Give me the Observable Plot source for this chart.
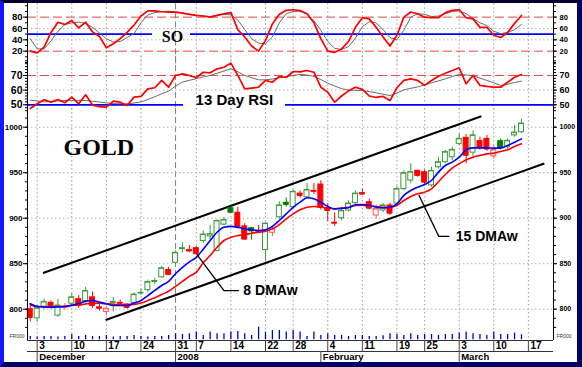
<!DOCTYPE html>
<html><head><meta charset="utf-8">
<script src="https://cdn.jsdelivr.net/npm/d3@7"></script>
<script src="https://cdn.jsdelivr.net/npm/@observablehq/plot@0.6"></script>
<style>
html,body{margin:0;padding:0;background:#fff;}
#chart{position:relative;width:582px;height:367px;overflow:hidden;background:#fff;}
#frame{position:absolute;left:0;top:0;width:582px;height:367px;box-sizing:border-box;
  border-left:4px solid #1414ff;border-top:3px solid #00002a;border-right:5px solid #000068;border-bottom:5px solid #000068;pointer-events:none;}
</style></head><body><div id="chart"></div>
<script>
// ---------- DATA (trading days, Nov 30 2007 .. Mar 14 2008) ----------
const dates = [
"2007-11-30",
"2007-12-03","2007-12-04","2007-12-05","2007-12-06","2007-12-07",
"2007-12-10","2007-12-11","2007-12-12","2007-12-13","2007-12-14",
"2007-12-17","2007-12-18","2007-12-19","2007-12-20","2007-12-21",
"2007-12-24","2007-12-26","2007-12-27","2007-12-28","2007-12-31",
"2008-01-02","2008-01-03","2008-01-04",
"2008-01-07","2008-01-08","2008-01-09","2008-01-10","2008-01-11",
"2008-01-14","2008-01-15","2008-01-16","2008-01-17","2008-01-18",
"2008-01-22","2008-01-23","2008-01-24","2008-01-25",
"2008-01-28","2008-01-29","2008-01-30","2008-01-31","2008-02-01",
"2008-02-04","2008-02-05","2008-02-06","2008-02-07","2008-02-08",
"2008-02-11","2008-02-12","2008-02-13","2008-02-14","2008-02-15",
"2008-02-19","2008-02-20","2008-02-21","2008-02-22",
"2008-02-25","2008-02-26","2008-02-27","2008-02-28","2008-02-29",
"2008-03-03","2008-03-04","2008-03-05","2008-03-06","2008-03-07",
"2008-03-10","2008-03-11","2008-03-12","2008-03-13","2008-03-14"];

const open = [800,
790,802,807,793,801.5, 806,811,809,813,802, 797,807,807,805,807, 817.5,821,830,835,843,
851,866,865, 867,875,880,864,893, 911,906,891,889,886, 865,884,901,917, 912,927,923,930,937,
911,895,900,908.5,916.5, 927.5,917.6,903,908.5,914, 916,932,941.4,952, 950.5,936,956,961.6,967,
981.7,988.3,972,984.7,987.2, 968,984.7,978,991,994.5];
const high = [804,
804,811,809,811,806, 817,815,824,819,808, 803,813,810,806,818, 822,832,834,847,846,
864,873,870, 869,886,892,898,901, 913,912,894,890,892, 895,890,918,922, 931,930,938,938,941,
916,906,912,919,930, 932,921,914,916,916.5, 935,952,960,953, 953,956,967,974.4,978,
992.7,992,996,989,991, 980,987,987,1002,1009];
const low = [786,
786,800,800,791,799, 805,801,806,801,798, 793,797,803,800,805, 815,818,827,834,837,
849,862,862, 860,872,875,863,892, 905,888,876,876,884, 853,880,899,912, 910,922,922,926,909,
896,891,897,907,915, 925,909,899,906,903, 914,930,938,945, 936,934,954,960,963,
980,960,967,975,973.6, 965,975,974,989,993];
const close = [791,
801,808,802,804,803, 813,804,820,804,801, 800.4,808,806.5,802,816, 818,829.7,831,845,838,
862,867,864, 861,882,882.5,897,898, 906.5,891,877,886,885.5, 894,888,914,915, 929,925,931,929.5,912,
908.5,894.5,908,916,927, 926.5,911,910,914,905.5, 932,949.5,950.6,947, 939.6,952,961.5,972.6,975,
987.2,969,991,977.3,976, 975,977.3,985,994,1004];
const volume = [3.3,
2.7,3.3,3.3,2.7,3.3, 5.3,3.3,4.3,3.3,3.3, 4.3,2.7,3.3,3.3,4.3, 3.3,2.7,3.3,3.3,4.3,
6,5.3,6, 7.7,4.3,7.7,6,6, 7.7,8.3,6,4.3,12.7, 7.7,9.3,9.3,7.7, 9.3,7.7,3.3,7.7,4.3,
6,4.3,4.3,3.3,4.3, 4.3,3.3,3.3,4,6, 5.3,4.3,6,4.3, 5.3,5.3,4.3,5.3,5.3,
6.7,7.7,6,5.3,4.3, 7.7,5.3,5.3,6.7,5];
// 8-day and 15-day weighted moving averages
const ma8 = [806,
803,802.5,802.3,802.5,803, 804.5,806,808.9,809.6,807.8, 806,804,804,804,806.7, 809.6,815,820.6,826,830.5,
839,846,852, 857,866,875.5,884.6,890, 891,890,888.3,887.2,886.5, 887.2,891,897.5,904.8, 912,917.6,922.4,921.3,917.6,
913,910.3,910.8,911.5,914.7, 915.1,914,912.1,911.4,912.1, 915.8,925,930.4,934.1, 937,941.4,950.6,957.9,961.6,
967.1,975.1,977.3,977.3,977.3, 977,977.3,979.9,983.5,987.2];
const ma15 = [805,
803,803,803,803,803, 804,804.8,805.8,806.7,806.5, 806,805.5,805.2,805,805.2, 806.7,809.6,812.5,816.2,819.8,
825,830.5,836, 840.7,851,859,868,875.5, 879,881,882,883.5,884.6, 885.7,888.3,893,899.3, 904.8,909.2,912.1,912.9,912.1,
911.4,910.3,911,912,914, 914.3,913.6,912.8,912.1,912.1, 914,919.5,923.9,926.8, 928.6,932.3,940,948,955,
960,964.1,967.1,968.9,970.7, 971.5,973.3,975.1,978.8,981.7];
// Stochastic oscillator %K (red) and %D (grey)
const soK = [20,
17,27,53,71,67, 74,61,71,54,46, 26,33,42,53,66, 82,91,91,89.5,89,
89,87,85, 83,82,80,83,86, 88,58,45,29,20, 39,68,85,92, 93,91.5,86,70,42,
20,18,24,37,62, 79,77,62,45,29, 48,80,89,86, 80,79,79,88,92,
93,79,77,62,62, 48,44,53,69,83];
const soD = [42,
24,24,38,55,67, 70,71,69,62,52, 42,36,37,44,51, 70,84,88,90,90.5,
89,87.5,85, 83,82,81,83,85, 84,75,58,42,34, 33,45,70,86, 90,90.5,86,74,57,
37,25,23,28,43, 63,72,70,58,44, 40,57,80,86, 85,81,82,86,90,
91,86,78,70,65, 55,51,53,58,67];
// 13 day RSI (red) and its signal (grey)
const rsi = [47.5,
50.7,53.4,51.8,53.6,51.4, 55.2,50.7,56.8,49.8,48.8, 48.4,52.5,51.8,49.5,55.2, 55.7,60.9,61.6,66.6,62,
70,71.1,70, 68.5,72.2,71.8,74.5,75.6, 78.4,70,60.9,61.4,62, 66.6,65.4,69.3,68.6, 72.7,72.4,73.4,72.2,62,
58.6,51.8,56,59.5,62, 60.5,56,55,55.7,52.9, 61.6,66.6,67.7,66.6, 63.2,66.6,69.5,71.5,73.4,
75.2,64.3,70,63.2,62.5, 62,62,65.4,68.8,70.7];
const rsiSig = [53.2,
52.6,52,52.2,52.6,52.9, 53,53,52.9,52.4,51.9, 51.3,50.8,50.7,50.7,51.2, 52,53.6,55.5,57.5,59.3,
62.8,65.5,66.7, 67.8,69,70,71.5,73, 74.5,72.5,70,68.5,67, 67,67.6,68.4,69.2, 70,70.7,70.3,69.3,67.2,
64.8,62.8,61,60,59.9, 59.7,59,58.2,57.2,56.3, 58,60.2,61.2,62.2, 63.6,65,66.3,67.7,69.3,
70.7,70.3,69.8,68.2,66.6, 65,63.2,64,65.2,66.1];

// axis labels
const tickDates = ["2007-12-03","2007-12-10","2007-12-17","2007-12-24","2008-01-02","2008-01-07","2008-01-14","2008-01-22",
  "2008-01-28","2008-02-04","2008-02-11","2008-02-19","2008-02-25","2008-03-03","2008-03-10","2008-03-17"];
const tickLabels = ["3","10","17","24","31","7","14","22","28","4","11","19","25","3","10","17"];
const monthDates = ["2007-12-03","2008-01-02","2008-02-01","2008-03-03"];
const monthLabels = ["December","2008","February","March"];
const yearBreak = "2008-01-02";
const soTicks = [20,40,60,80];
const rsiTicks = [50,60,70];
const priceTicks = [800,850,900,950,1000];
const volumeTag = ["FR000"];

// trend channel (trading-day index, price) and annotations
const channelUpper = [{i:0.95,p:840},{i:64.1,p:1011.8}];
const channelLower = [{i:10.0,p:788.4},{i:73.2,p:959.8}];
const lead8 = [{i:23.1,p:860},{i:27.0,p:820.5},{i:29.1,p:820.5}];
const lead15 = [{i:55.2,p:925},{i:58.05,p:880},{i:59.5,p:880}];
const priceNotes = [{i:29.8,p:820.5,t:"8 DMAw"},{i:60.5,p:880,t:"15 DMAw"}];
const goldNote = [{i:3.8,p:978,t:"GOLD"}];
const soNote = [{i:19.56,v:44.6,t:"SO"}];
const rsiNote = [{i:22.9,v:52.9,t:"13 Day RSI"}];

// ---------- BUILD ----------
const X0 = -1.4, X1 = 74.63, W = 582, ML = 27, MR = 29;
const last = dates.length - 2;
function idx(d) {
  const k = dates.indexOf(d);
  if (k >= 0) return k - 1;
  const t0 = new Date(dates[dates.length - 1]), t1 = new Date(d);
  return last + d3.utcDays(d3.utcDay.offset(t0, 1), d3.utcDay.offset(t1, 1)).filter(t => t.getUTCDay() % 6 !== 0).length;
}
const ticks = tickDates.map((d, k) => ({i: idx(d), label: tickLabels[k]}));
const months = monthDates.map((d, k) => ({i: idx(d), label: monthLabels[k]}));
const yearIdx = idx(yearBreak);
const gridIdx = ticks.map(t => t.i).filter(i => i !== yearIdx);

const rows = dates.map((d, k) => {
  const o = open[k], c = close[k];
  const prev = k > 0 ? close[k - 1] : o;
  const up = c >= prev, hollow = c >= o;
  const col = up ? (hollow ? "#3a9a3a" : "#077a07") : (hollow ? "#ff5555" : "#ff0000");
  return {i: k - 1, o, h: high[k], l: low[k], c, col, fill: hollow ? "white" : col,
    vol: volume[k], ma8: ma8[k], ma15: ma15[k], soK: soK[k], soD: soD[k], rsi: rsi[k], rsiSig: rsiSig[k]};
});

const chart = document.getElementById("chart");
const SANS = "'Liberation Sans', Arial, sans-serif";
const SERIF = "'Liberation Serif', 'Times New Roman', serif";
const fmt = d3.format("d");
function addPlot(top, opts) {
  const svg = Plot.plot({width: W, marginLeft: ML, marginRight: MR, ...opts, x: {domain: [X0, X1], axis: null}});
  svg.style.position = "absolute"; svg.style.left = "0px"; svg.style.top = top + "px";
  svg.style.background = "transparent"; svg.style.overflow = "visible"; svg.style.fontFamily = SANS;
  chart.appendChild(svg);
}
const grid = (ext) => [
  Plot.ruleX(gridIdx, {stroke: "#a0a0a0", strokeDasharray: "1.5,2.5", ...ext}),
  Plot.ruleX([yearIdx], {stroke: "#808080", strokeDasharray: "6,3", ...ext})
];
const edges = (ext) => Plot.ruleX([X0, X1], {stroke: "black", ...ext});
const yAxes = (major, minor, lf, rf) => [
  Plot.axisY(minor, {anchor: "left", tickSize: 2, tickFormat: () => "", label: null}),
  Plot.axisY(minor, {anchor: "right", tickSize: 2, tickFormat: () => "", label: null}),
  Plot.axisY(major, {anchor: "left", tickSize: 4, tickPadding: 1, tickFormat: fmt, fontSize: lf, fontWeight: "bold", label: null}),
  Plot.axisY(major, {anchor: "right", tickSize: 3, tickPadding: 3, tickFormat: fmt, fontSize: rf, fontWeight: "bold", label: null})
];

// Stochastic panel
addPlot(0, {
  height: 64, marginTop: 5.3, marginBottom: 2, y: {domain: [0, 100]},
  marks: [
    ...grid({insetTop: -2, insetBottom: -2}),
    Plot.ruleY([40, 60], {stroke: "#b8b8b8", strokeDasharray: "1.5,2.5"}),
    Plot.ruleY([20, 80], {stroke: "#e04848", strokeDasharray: "9,4"}),
    Plot.ruleY([[X0, 16.67], [22.16, X1]], {y: 50, x1: d => d[0], x2: d => d[1], stroke: "#0000ff", strokeWidth: 1.7}),
    Plot.line(rows, {x: "i", y: "soD", stroke: "#6a6a6a", strokeWidth: 1}),
    Plot.line(rows, {x: "i", y: "soK", stroke: "#ff0000", strokeWidth: 1.7}),
    Plot.text(soNote, {x: "i", y: "v", text: "t", fontFamily: SERIF, fontWeight: "bold", fontSize: 16, fill: "black"}),
    edges({insetTop: -2.3, insetBottom: -2}),
    ...yAxes(soTicks, d3.range(0, 101, 10), 9.5, 7.5)
  ]
});

// RSI panel
addPlot(56, {
  height: 56, marginTop: 2, marginBottom: 2, y: {domain: [46.11, 81.56]},
  marks: [
    ...grid({insetTop: -2, insetBottom: -2}),
    Plot.ruleY([60], {stroke: "#b8b8b8", strokeDasharray: "1.5,2.5"}),
    Plot.ruleY([70], {stroke: "#e04848", strokeDasharray: "9,4"}),
    Plot.ruleY([[X0, 21.15], [35.9, X1]], {y: 50, x1: d => d[0], x2: d => d[1], stroke: "#0000ff", strokeWidth: 1.7}),
    Plot.line(rows, {x: "i", y: "rsiSig", stroke: "#6a6a6a", strokeWidth: 1}),
    Plot.line(rows, {x: "i", y: "rsi", stroke: "#ff0000", strokeWidth: 1.7}),
    Plot.text(rsiNote, {x: "i", y: "v", text: "t", textAnchor: "start", fontFamily: SANS, fontWeight: "bold", fontSize: 15, fill: "black"}),
    edges({insetTop: -2, insetBottom: -2}),
    ...yAxes(rsiTicks, d3.range(46, 82, 2), 10.5, 9)
  ]
});

// Price panel
addPlot(108, {
  height: 232, marginTop: 2, marginBottom: 8, y: {domain: [774.4, 1018.35]},
  marks: [
    ...grid({insetTop: -2, insetBottom: -8}),
    Plot.ruleY(priceTicks, {stroke: "#b0b0b0", strokeDasharray: "1.5,2.5"}),
    Plot.line(channelUpper, {x: "i", y: "p", stroke: "black", strokeWidth: 2}),
    Plot.line(channelLower, {x: "i", y: "p", stroke: "black", strokeWidth: 2}),
    Plot.ruleX(rows, {x: "i", y1: "l", y2: "h", stroke: "col", strokeWidth: 1}),
    Plot.rect(rows, {x1: d => d.i - 0.36, x2: d => d.i + 0.36, y1: "o", y2: "c", fill: "fill", stroke: "col", strokeWidth: 1}),
    Plot.ruleY(rows, {y: "c", x1: d => d.i - 0.36, x2: d => d.i + 0.36, stroke: "col", strokeWidth: 1}),
    Plot.line(rows, {x: "i", y: "ma15", stroke: "#ff0000", strokeWidth: 1.6, curve: "monotone-x"}),
    Plot.line(rows, {x: "i", y: "ma8", stroke: "#0000ff", strokeWidth: 1.6, curve: "monotone-x"}),
    Plot.line(lead8, {x: "i", y: "p", stroke: "black", strokeWidth: 1.3}),
    Plot.line(lead15, {x: "i", y: "p", stroke: "black", strokeWidth: 1.3}),
    Plot.text(priceNotes, {x: "i", y: "p", text: "t", textAnchor: "start", fontFamily: SANS, fontWeight: "bold", fontSize: 14, fill: "black"}),
    Plot.text(goldNote, {x: "i", y: "p", text: "t", textAnchor: "start", fontFamily: SERIF, fontWeight: "bold", fontSize: 24, fill: "black"}),
    edges({insetTop: -2, insetBottom: -8}),
    ...yAxes(priceTicks, d3.range(780, 1011, 10), 8, 7)
  ]
});

// Volume strip
addPlot(320, {
  height: 20, marginTop: 0, marginBottom: 0.7, y: {domain: [0, 19.3], axis: null},
  marks: [
    Plot.ruleX(rows, {x: "i", y1: 0, y2: "vol", stroke: "#0000cc", strokeWidth: 1.3}),
    Plot.text(volumeTag, {x: X0, y: 3.5, text: d => d, textAnchor: "end", dx: -3, fontSize: 5, fill: "#333"}),
    Plot.text(volumeTag, {x: X1, y: 3.5, text: d => d, textAnchor: "start", dx: 3, fontSize: 5, fill: "#333"})
  ]
});

// Date rows
addPlot(339, {
  height: 24, marginTop: 1, marginBottom: 1, y: {domain: [0, 2], axis: null},
  marks: [
    Plot.ruleY([1, 2], {stroke: "#333"}),
    Plot.ruleX(ticks, {x: "i", y1: 1, y2: 2, stroke: "#444"}),
    Plot.ruleX(months, {x: "i", y1: 0, y2: 1, stroke: "#444"}),
    Plot.text(ticks, {x: "i", y: 1.5, text: "label", textAnchor: "start", dx: 2, fontSize: 10, fontWeight: "bold", fill: "black"}),
    Plot.text(months, {x: "i", y: 0.5, text: "label", textAnchor: "start", dx: 2, fontSize: 9.5, fontWeight: "bold", fill: "black"})
  ]
});

const frame = document.createElement("div");
frame.id = "frame";
chart.appendChild(frame);
</script></body></html>
